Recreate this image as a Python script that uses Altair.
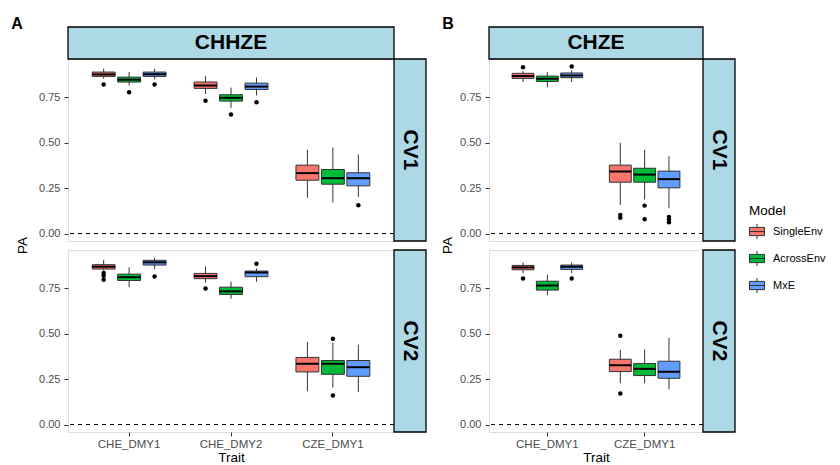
import altair as alt
import pandas as pd

MODELS = ["SingleEnv", "AcrossEnv", "MxE"]
COLORS = ["#F8766D", "#00BA38", "#619CFF"]

TRAITS_A = ["CHE_DMY1", "CHE_DMY2", "CZE_DMY1"]
TRAITS_B = ["CHE_DMY1", "CZE_DMY1"]

# Panel A (CHHZE), CV1 - order: trait-major, model-minor
A_CV1_LOW = [0.853, 0.816, 0.850, 0.770, 0.693, 0.761, 0.197, 0.171, 0.202]
A_CV1_Q1 = [0.866, 0.835, 0.866, 0.800, 0.730, 0.794, 0.294, 0.272, 0.263]
A_CV1_MED = [0.877, 0.848, 0.878, 0.816, 0.748, 0.810, 0.333, 0.305, 0.305]
A_CV1_Q3 = [0.890, 0.862, 0.890, 0.835, 0.765, 0.829, 0.377, 0.353, 0.335]
A_CV1_HIGH = [0.908, 0.890, 0.908, 0.868, 0.804, 0.860, 0.462, 0.474, 0.436]
A_CV1_OUT_TRAIT = ["CHE_DMY1", "CHE_DMY1", "CHE_DMY1", "CHE_DMY2", "CHE_DMY2", "CHE_DMY2", "CZE_DMY1"]
A_CV1_OUT_MODEL = ["SingleEnv", "AcrossEnv", "MxE", "SingleEnv", "AcrossEnv", "MxE", "MxE"]
A_CV1_OUT_VAL = [0.822, 0.779, 0.822, 0.732, 0.656, 0.724, 0.156]

# Panel A (CHHZE), CV2
A_CV2_LOW = [0.848, 0.757, 0.857, 0.783, 0.693, 0.787, 0.184, 0.204, 0.180]
A_CV2_Q1 = [0.857, 0.794, 0.879, 0.804, 0.717, 0.815, 0.290, 0.277, 0.266]
A_CV2_MED = [0.870, 0.812, 0.894, 0.818, 0.734, 0.838, 0.335, 0.335, 0.316]
A_CV2_Q3 = [0.881, 0.829, 0.905, 0.833, 0.757, 0.846, 0.370, 0.353, 0.353]
A_CV2_HIGH = [0.908, 0.866, 0.919, 0.871, 0.787, 0.860, 0.456, 0.452, 0.440]
A_CV2_OUT_TRAIT = ["CHE_DMY1", "CHE_DMY1", "CHE_DMY1", "CHE_DMY1", "CHE_DMY2", "CHE_DMY2", "CZE_DMY1", "CZE_DMY1"]
A_CV2_OUT_MODEL = ["SingleEnv", "SingleEnv", "SingleEnv", "MxE", "SingleEnv", "MxE", "AcrossEnv", "AcrossEnv"]
A_CV2_OUT_VAL = [0.835, 0.820, 0.798, 0.816, 0.750, 0.886, 0.473, 0.160]

# Panel B (CHZE), CV1
B_CV1_LOW = [0.835, 0.807, 0.835, 0.158, 0.188, 0.140]
B_CV1_Q1 = [0.855, 0.838, 0.859, 0.283, 0.283, 0.252]
B_CV1_MED = [0.868, 0.853, 0.871, 0.342, 0.325, 0.300]
B_CV1_Q3 = [0.883, 0.868, 0.885, 0.377, 0.360, 0.344]
B_CV1_HIGH = [0.895, 0.890, 0.899, 0.500, 0.462, 0.426]
B_CV1_OUT_TRAIT = ["CHE_DMY1", "CHE_DMY1", "CZE_DMY1", "CZE_DMY1", "CZE_DMY1", "CZE_DMY1", "CZE_DMY1", "CZE_DMY1", "CZE_DMY1"]
B_CV1_OUT_MODEL = ["SingleEnv", "MxE", "SingleEnv", "SingleEnv", "AcrossEnv", "AcrossEnv", "MxE", "MxE", "MxE"]
B_CV1_OUT_VAL = [0.916, 0.921, 0.103, 0.087, 0.154, 0.079, 0.092, 0.077, 0.062]

# Panel B (CHZE), CV2
B_CV2_LOW = [0.835, 0.713, 0.835, 0.228, 0.228, 0.195]
B_CV2_Q1 = [0.853, 0.741, 0.855, 0.292, 0.270, 0.255]
B_CV2_MED = [0.866, 0.767, 0.870, 0.327, 0.307, 0.291]
B_CV2_Q3 = [0.877, 0.790, 0.879, 0.360, 0.336, 0.349]
B_CV2_HIGH = [0.894, 0.826, 0.894, 0.412, 0.414, 0.478]
B_CV2_OUT_TRAIT = ["CHE_DMY1", "CHE_DMY1", "CZE_DMY1", "CZE_DMY1"]
B_CV2_OUT_MODEL = ["SingleEnv", "MxE", "SingleEnv", "SingleEnv"]
B_CV2_OUT_VAL = [0.805, 0.805, 0.489, 0.171]

Y_TICKS = [0.0, 0.25, 0.5, 0.75]
Y_DOMAIN = [-0.041, 0.962]

FONT = "Liberation Sans"
STRIP_FILL = "#ADD8E6"
BOX_SYMBOL = "M-1,-0.55H1V0.55H-1Z M-1,0H1 M0,-0.55V-1 M0,0.55V1"

WA, WB, H = 326, 214, 182
STRIP = 32


def stats_frame(traits, low, q1, med, q3, high):
    rows = []
    i = 0
    for t in traits:
        for m in MODELS:
            rows.append(dict(Trait=t, Model=m, low=low[i], q1=q1[i], med=med[i], q3=q3[i], high=high[i]))
            i += 1
    return pd.DataFrame(rows)


def out_frame(traits, models, vals):
    return pd.DataFrame({"Trait": traits, "Model": models, "val": vals})


legend = alt.Legend(
    title="Model", orient="none", legendX=681, legendY=145, symbolType=BOX_SYMBOL,
    symbolSize=225, symbolStrokeColor="#333333", symbolStrokeWidth=1, labelFontSize=11,
    titleFontSize=13.5, titleFontWeight="normal", titleColor="black", labelColor="black",
    rowPadding=7, titlePadding=6, padding=0, labelOffset=8, labelFont=FONT, titleFont=FONT,
)

one = pd.DataFrame({"k": [0]})


def cell(traits, stats, outs, W, show_x, top_label, row_label, letter):
    xscale = alt.Scale(domain=traits, paddingInner=0.25, paddingOuter=0.225)
    xoff = alt.Scale(domain=MODELS, paddingInner=0.1, paddingOuter=0.05)
    yscale = alt.Scale(domain=Y_DOMAIN, nice=False, zero=False)
    band = W / (len(traits) + 0.2) * 0.75
    boxw = band / 3.0 * 0.9
    if show_x:
        xax = alt.Axis(title="Trait", labelAngle=0, labelColor="#4D4D4D", labelFontSize=11.5,
                       tickColor="#333333", tickSize=4, domain=False, labelPadding=2,
                       titleFontSize=13.5, titleFontWeight="normal", titleColor="black",
                       titlePadding=1, labelFont=FONT, titleFont=FONT)
    else:
        xax = None
    yax = alt.Axis(values=Y_TICKS, format=".2f", title=None, grid=False, domain=False,
                   tickColor="#333333", tickSize=4, labelColor="#4D4D4D", labelFontSize=11,
                   labelPadding=4, labelFont=FONT)
    X = alt.X("Trait:N", scale=xscale, axis=xax)
    XO = alt.XOffset("Model:N", scale=xoff)
    base = alt.Chart(stats).encode(x=X, xOffset=XO)
    hline = alt.Chart(pd.DataFrame({"v": [0.0]})).mark_rule(
        color="black", strokeDash=[4, 4], strokeWidth=1).encode(
        y=alt.Y("v:Q", scale=yscale, axis=yax))
    whisk = base.mark_rule(color="#333333", strokeWidth=1).encode(
        y=alt.Y("low:Q", scale=yscale, axis=yax), y2="high:Q")
    box = base.mark_bar(stroke="#333333", strokeWidth=1, opacity=1).encode(
        y="q1:Q", y2="q3:Q",
        color=alt.Color("Model:N", scale=alt.Scale(domain=MODELS, range=COLORS), legend=legend))
    med = base.mark_tick(color="black", thickness=2, size=boxw, opacity=1).encode(y="med:Q")
    pts = alt.Chart(outs).mark_circle(color="black", size=20, opacity=1).encode(
        x=X, xOffset=XO, y="val:Q")
    layers = [hline, whisk, box, med, pts]
    # right strip
    layers.append(alt.Chart(one).mark_rect(fill=STRIP_FILL, stroke="black", strokeWidth=1.3).encode(
        x=alt.value(W), x2=alt.value(W + STRIP), y=alt.value(0), y2=alt.value(H)))
    layers.append(alt.Chart(one).mark_text(text=row_label, angle=90, fontSize=21, fontWeight="bold",
                                           font=FONT, color="black", align="center", baseline="middle").encode(
        x=alt.value(W + STRIP / 2), y=alt.value(H / 2)))
    if top_label:
        layers.append(alt.Chart(one).mark_rect(fill=STRIP_FILL, stroke="black", strokeWidth=1.3).encode(
            x=alt.value(0), x2=alt.value(W), y=alt.value(-STRIP), y2=alt.value(0)))
        layers.append(alt.Chart(one).mark_text(text=top_label, fontSize=21, fontWeight="bold",
                                               font=FONT, color="black", align="center", baseline="middle").encode(
            x=alt.value(W / 2), y=alt.value(-STRIP / 2)))
        layers.append(alt.Chart(one).mark_text(text=letter, fontSize=16, fontWeight="bold",
                                               font=FONT, color="black", align="center", baseline="middle").encode(
            x=alt.value(-51 if letter == "A" else -41), y=alt.value(-35)))
        layers.append(alt.Chart(one).mark_text(text="PA", fontSize=13.5, angle=270,
                                               font=FONT, color="black", align="center", baseline="middle").encode(
            x=alt.value(-45 if letter == "A" else -41), y=alt.value(H + 4.5)))
    return alt.layer(*layers).properties(width=W, height=H)


a1 = cell(TRAITS_A, stats_frame(TRAITS_A, A_CV1_LOW, A_CV1_Q1, A_CV1_MED, A_CV1_Q3, A_CV1_HIGH),
          out_frame(A_CV1_OUT_TRAIT, A_CV1_OUT_MODEL, A_CV1_OUT_VAL), WA, False, "CHHZE", "CV1", "A")
b1 = cell(TRAITS_B, stats_frame(TRAITS_B, B_CV1_LOW, B_CV1_Q1, B_CV1_MED, B_CV1_Q3, B_CV1_HIGH),
          out_frame(B_CV1_OUT_TRAIT, B_CV1_OUT_MODEL, B_CV1_OUT_VAL), WB, False, "CHZE", "CV1", "B")
a2 = cell(TRAITS_A, stats_frame(TRAITS_A, A_CV2_LOW, A_CV2_Q1, A_CV2_MED, A_CV2_Q3, A_CV2_HIGH),
          out_frame(A_CV2_OUT_TRAIT, A_CV2_OUT_MODEL, A_CV2_OUT_VAL), WA, True, None, "CV2", "A")
b2 = cell(TRAITS_B, stats_frame(TRAITS_B, B_CV2_LOW, B_CV2_Q1, B_CV2_MED, B_CV2_Q3, B_CV2_HIGH),
          out_frame(B_CV2_OUT_TRAIT, B_CV2_OUT_MODEL, B_CV2_OUT_VAL), WB, True, None, "CV2", "B")

chart = alt.concat(a1, b1, a2, b2, columns=2, spacing=alt.RowColnumber(row=9, column=95),
                   bounds="flush", align="each").resolve_scale(
    x="independent", y="independent", xOffset="independent", color="shared"
).configure_view(stroke="#333333", strokeWidth=1).configure(
    padding={"left": 2, "top": 7, "right": 0, "bottom": 0}, background="white"
)

chart.save("out.html", embed_options={"renderer": "svg", "actions": False})
